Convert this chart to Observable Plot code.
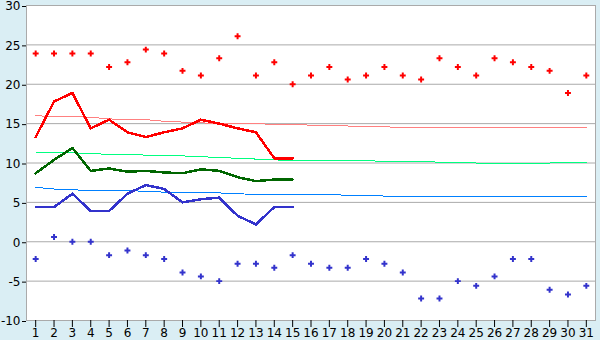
<!DOCTYPE html>
<html>
<head>
<meta charset="utf-8">
<script src="https://cdn.jsdelivr.net/npm/d3@7"></script>
<script src="https://cdn.jsdelivr.net/npm/@observablehq/plot@0.6"></script>
<style>
  html, body { margin: 0; padding: 0; background: #daeef4; }
  #chart svg { display: block; }
</style>
</head>
<body>
<div id="chart"></div>
<script>
// Day of month
const days = [1,2,3,4,5,6,7,8,9,10,11,12,13,14,15,16,17,18,19,20,21,22,23,24,25,26,27,28,29,30,31];
const yTicks = [-10,-5,0,5,10,15,20,25,30];

// Record highs / lows (dots)
const recordMax = [23.9,23.9,23.9,23.9,22.2,22.8,24.4,23.9,21.7,21.1,23.3,26.1,21.1,22.8,20.0,21.1,22.2,20.6,21.1,22.2,21.1,20.6,23.3,22.2,21.1,23.3,22.8,22.2,21.7,18.9,21.1];
const recordMin = [-2.2,0.6,0.0,0.0,-1.7,-1.1,-1.7,-2.2,-3.9,-4.4,-5.0,-2.8,-2.8,-3.3,-1.7,-2.8,-3.3,-3.3,-2.2,-2.8,-3.9,-7.2,-7.2,-5.0,-5.6,-4.4,-2.2,-2.2,-6.1,-6.7,-5.6];

// Normals (thin lines)
const normMax  = [16.0,15.9,15.9,15.8,15.6,15.5,15.5,15.3,15.2,15.1,15.0,15.0,15.0,14.9,14.9,14.8,14.7,14.7,14.6,14.6,14.5,14.5,14.5,14.5,14.5,14.5,14.5,14.5,14.5,14.5,14.5];
const normMean = [11.4,11.3,11.3,11.2,11.1,11.1,11.0,10.9,10.9,10.8,10.7,10.6,10.5,10.4,10.3,10.3,10.3,10.3,10.3,10.2,10.2,10.2,10.1,10.1,10.0,10.0,10.0,10.0,10.0,10.1,10.1];
const normMin  = [6.9,6.7,6.6,6.5,6.5,6.5,6.4,6.3,6.3,6.2,6.2,6.1,6.0,6.0,6.0,6.0,6.0,5.9,5.9,5.8,5.7,5.7,5.7,5.7,5.7,5.7,5.7,5.7,5.7,5.7,5.7];

// Observed this month (thick lines, days 1-15)
const obsMax  = [13.3,17.8,18.9,14.4,15.5,13.9,13.3,13.9,14.4,15.5,15.0,14.4,13.9,10.6,10.6];
const obsMean = [8.7,10.4,11.9,9.0,9.3,8.9,9.0,8.8,8.7,9.2,9.0,8.2,7.7,7.9,7.9];
const obsMin  = [4.4,4.4,6.1,3.9,3.9,6.1,7.2,6.7,5.0,5.4,5.6,3.3,2.2,4.4,4.4];

const toRows = (vals) => vals.map((v, i) => ({day: days[i], v}));

const fmt = d => String(d);

const chart = Plot.plot({
  width: 600,
  height: 340,
  marginLeft: 26,
  marginRight: 5,
  marginTop: 5,
  marginBottom: 20,
  style: {background: "transparent", fontFamily: "DejaVu Sans, Verdana, sans-serif", fontSize: "12px", color: "#000"},
  x: {domain: [0.5, 31.5], label: null},
  y: {domain: [-10, 30], label: null},
  marks: [
    Plot.frame({fill: "white", stroke: null}),
    Plot.gridY(yTicks, {stroke: "#aaa", strokeOpacity: 1, strokeWidth: 1}),
    Plot.lineY(toRows(normMax),  {x: "day", y: "v", stroke: "#ff8080", strokeWidth: 1, shapeRendering: "crispEdges"}),
    Plot.lineY(toRows(normMean), {x: "day", y: "v", stroke: "#00ff80", strokeWidth: 1, shapeRendering: "crispEdges"}),
    Plot.lineY(toRows(normMin),  {x: "day", y: "v", stroke: "#0080ff", strokeWidth: 1, shapeRendering: "crispEdges"}),
    Plot.lineY(toRows(obsMean), {x: "day", y: "v", stroke: "#006600", strokeWidth: 2.5, shapeRendering: "crispEdges"}),
    Plot.lineY(toRows(obsMin),  {x: "day", y: "v", stroke: "#3333cc", strokeWidth: 2.5, shapeRendering: "crispEdges"}),
    Plot.lineY(toRows(obsMax),  {x: "day", y: "v", stroke: "#ff0000", strokeWidth: 2.5, shapeRendering: "crispEdges"}),
    Plot.dot(toRows(recordMax), {x: "day", y: "v", symbol: "cross", r: 2.5, fill: "#ff0000", stroke: null}),
    Plot.dot(toRows(recordMin), {x: "day", y: "v", symbol: "cross", r: 2.5, fill: "#3333cc", stroke: null}),
    Plot.frame({stroke: "#aaa", strokeWidth: 1}),
    Plot.axisX(days, {tickSize: 7, tickPadding: 1, tickFormat: fmt, stroke: "#000"}),
    Plot.axisY(yTicks, {tickSize: 4, tickPadding: 2, tickFormat: fmt, stroke: "#000", dy: 1})
  ]
});
document.getElementById("chart").appendChild(chart);
</script>
</body>
</html>
